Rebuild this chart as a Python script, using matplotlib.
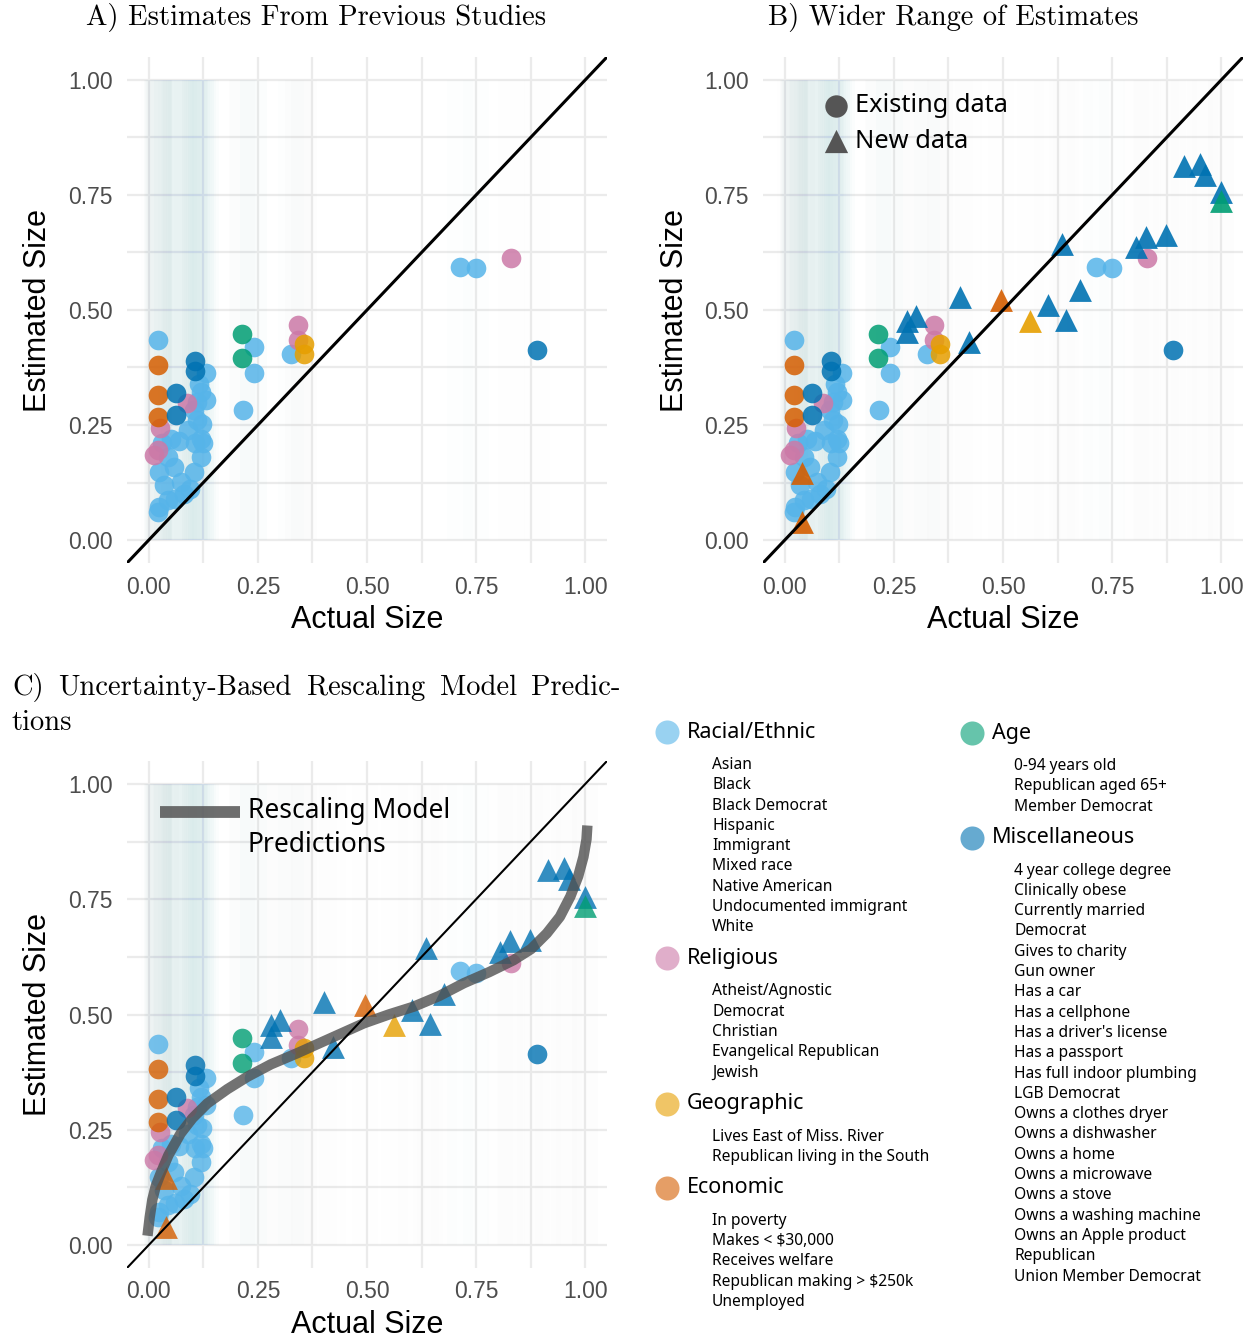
import matplotlib
matplotlib.use("Agg")
import matplotlib.pyplot as plt
from matplotlib.patches import Rectangle

plt.rcParams['font.family'] = ['Liberation Sans', 'DejaVu Sans']

# colours for each item category
col_rac = '#56B4E9'
col_rel = '#CC79A7'
col_geo = '#E69F00'
col_eco = '#D55E00'
col_age = '#009E73'
col_misc = '#0072B2'

# ---- existing data (circles): actual size, estimated size ----
rac_x = [0.020, 0.240, 0.240, 0.216, 0.325, 0.714, 0.750, 0.130, 0.119, 0.130,
         0.104, 0.123, 0.115, 0.120, 0.105, 0.125, 0.070, 0.030, 0.043, 0.023,
         0.057, 0.103, 0.073, 0.023, 0.043, 0.090, 0.110, 0.110, 0.050, 0.020,
         0.060, 0.080, 0.035, 0.095, 0.120]
rac_y = [0.435, 0.419, 0.363, 0.282, 0.405, 0.594, 0.591, 0.362, 0.322, 0.304,
         0.282, 0.253, 0.340, 0.220, 0.210, 0.210, 0.215, 0.210, 0.181, 0.148,
         0.159, 0.148, 0.127, 0.072, 0.087, 0.240, 0.260, 0.300, 0.220, 0.060,
         0.090, 0.100, 0.120, 0.110, 0.180]
rel_x = [0.342, 0.342, 0.831, 0.087, 0.025, 0.020, 0.012]
rel_y = [0.468, 0.434, 0.612, 0.297, 0.244, 0.195, 0.184]
geo_x = [0.356, 0.356]
geo_y = [0.427, 0.405]
eco_x = [0.022, 0.022, 0.022]
eco_y = [0.381, 0.316, 0.267]
age_x = [0.213, 0.213]
age_y = [0.448, 0.395]
misc_x = [0.105, 0.105, 0.063, 0.063, 0.890]
misc_y = [0.390, 0.367, 0.320, 0.271, 0.414]

# ---- new data (triangles) ----
new_misc_x = [0.915, 0.952, 0.963, 0.999, 0.635, 0.805, 0.828, 0.873, 0.676, 0.602,
              0.644, 0.401, 0.281, 0.301, 0.281, 0.421]
new_misc_y = [0.813, 0.818, 0.794, 0.756, 0.644, 0.636, 0.659, 0.662, 0.544, 0.510,
              0.479, 0.528, 0.477, 0.488, 0.452, 0.430]
new_age_x = [1.000]
new_age_y = [0.736]
new_eco_x = [0.495, 0.040, 0.040]
new_eco_y = [0.521, 0.145, 0.040]
new_geo_x = [0.563]
new_geo_y = [0.477]

# rescaling model prediction curve
curve_x = [-0.003, 0.002, 0.008, 0.016, 0.027, 0.045, 0.073, 0.100, 0.134, 0.180,
           0.226, 0.280, 0.340, 0.420, 0.493, 0.550, 0.607, 0.665, 0.722, 0.780,
           0.836, 0.876, 0.912, 0.942, 0.966, 0.984, 0.996, 1.003, 1.005]
curve_y = [0.020, 0.060, 0.098, 0.128, 0.155, 0.195, 0.242, 0.275, 0.307, 0.338,
           0.365, 0.392, 0.416, 0.450, 0.481, 0.500, 0.517, 0.540, 0.568, 0.592,
           0.618, 0.642, 0.676, 0.712, 0.756, 0.800, 0.842, 0.880, 0.910]

ticks = [0, 0.25, 0.5, 0.75, 1.0]
tick_labels = ['0.00', '0.25', '0.50', '0.75', '1.00']
minor_ticks = [0.125, 0.375, 0.625, 0.875]

# legend text
rac_names = ['Asian', 'Black', 'Black Democrat', 'Hispanic', 'Immigrant', 'Mixed race',
             'Native American', 'Undocumented immigrant', 'White']
rel_names = ['Atheist/Agnostic', 'Democrat', 'Christian', 'Evangelical Republican', 'Jewish']
geo_names = ['Lives East of Miss. River', 'Republican living in the South']
eco_names = ['In poverty', 'Makes < $30,000', 'Receives welfare',
             'Republican making > $250k', 'Unemployed']
age_names = ['0-94 years old', 'Republican aged 65+', 'Member Democrat']
misc_names = ['4 year college degree', 'Clinically obese', 'Currently married', 'Democrat',
              'Gives to charity', 'Gun owner', 'Has a car', 'Has a cellphone',
              "Has a driver's license", 'Has a passport', 'Has full indoor plumbing',
              'LGB Democrat', 'Owns a clothes dryer', 'Owns a dishwasher', 'Owns a home',
              'Owns a microwave', 'Owns a stove', 'Owns a washing machine',
              'Owns an Apple product', 'Republican', 'Union Member Democrat']

old_groups = [(rac_x, rac_y, col_rac), (rel_x, rel_y, col_rel), (geo_x, geo_y, col_geo),
              (eco_x, eco_y, col_eco), (age_x, age_y, col_age), (misc_x, misc_y, col_misc)]
new_groups = [(new_misc_x, new_misc_y, col_misc), (new_age_x, new_age_y, col_age),
              (new_eco_x, new_eco_y, col_eco), (new_geo_x, new_geo_y, col_geo)]

W, H = 1254, 1340
fig = plt.figure(figsize=(W / 100, H / 100), dpi=100)


def px_axes(left, top, right, bottom):
    return fig.add_axes([left / W, 1 - bottom / H, (right - left) / W, (bottom - top) / H])


def style(ax):
    ax.set_xlim(-0.05, 1.05)
    ax.set_ylim(-0.05, 1.05)
    ax.set_xticks(ticks)
    ax.set_yticks(ticks)
    ax.set_xticks(minor_ticks, minor=True)
    ax.set_yticks(minor_ticks, minor=True)
    ax.set_xticklabels(tick_labels)
    ax.set_yticklabels(tick_labels)
    ax.grid(which='both', color='#EBEBEB', lw=1.6)
    ax.set_axisbelow(True)
    for s in ax.spines.values():
        s.set_visible(False)
    ax.tick_params(which='both', length=0, labelsize=16.5, labelcolor='#4D4D4D')
    ax.tick_params(axis='x', pad=9)
    ax.tick_params(axis='y', pad=10)


def haze(ax, groups):
    # faint columns for the individual responses behind each item
    for xs, ys, c in groups:
        a = 0.010 if c == col_rac else 0.005
        for x in xs:
            ax.add_patch(Rectangle((x - 0.03, 0), 0.06, 1.0, color=c, alpha=a,
                                   lw=0, zorder=0.6))


def points(ax, groups, marker, s, alpha):
    for xs, ys, c in groups:
        ax.scatter(xs, ys, s=s, color=c, marker=marker, alpha=alpha, lw=0, zorder=3)


axA = px_axes(127, 57, 607, 563)
axB = px_axes(763, 57, 1243, 563)
axC = px_axes(127, 761, 607, 1268)

for ax in (axA, axB, axC):
    style(ax)

haze(axA, old_groups)
haze(axB, old_groups + new_groups)
haze(axC, old_groups + new_groups)

points(axA, old_groups, 'o', 200, 0.85)
points(axB, old_groups, 'o', 200, 0.85)
points(axB, new_groups, '^', 270, 0.9)
points(axC, old_groups, 'o', 200, 0.8)
points(axC, new_groups, '^', 270, 0.8)

axC.plot(curve_x, curve_y, color='#505050', alpha=0.8, lw=7.5, solid_capstyle='butt', zorder=4)

axA.axline((0, 0), (1, 1), color='black', lw=2.2, zorder=5)
axB.axline((0, 0), (1, 1), color='black', lw=2.2, zorder=5)
axC.axline((0, 0), (1, 1), color='black', lw=1.5, zorder=5)

# overlay in pixel units for titles, labels and legends
cv = fig.add_axes([0, 0, 1, 1])
cv.set_xlim(0, W)
cv.set_ylim(H, 0)
cv.axis('off')

title_kw = dict(family='cmr10', size=20.6, va='center')
cv.text(316, 18, 'A) Estimates From Previous Studies', ha='center', **title_kw)
cv.text(953, 18, 'B) Wider Range of Estimates', ha='center', **title_kw)

# justified first line of panel C title
words = ['C)', 'Uncertainty-Based', 'Rescaling', 'Model', 'Predic-']
objs = [cv.text(0, 688, w, ha='left', **title_kw) for w in words]
r = fig.canvas.get_renderer()
widths = [o.get_window_extent(r).width for o in objs]
gap = (621 - 12 - sum(widths)) / (len(words) - 1)
xpos = 12
for o, wd in zip(objs, widths):
    o.set_x(xpos)
    xpos += wd + gap
cv.text(12, 723, 'tions', ha='left', **title_kw)

lab_kw = dict(size=22, ha='center', va='center')
cv.text(367, 620, 'Actual Size', **lab_kw)
cv.text(1003, 620, 'Actual Size', **lab_kw)
cv.text(367, 1325, 'Actual Size', **lab_kw)
cv.text(38, 310, 'Estimated Size', rotation=90, **lab_kw)
cv.text(675, 310, 'Estimated Size', rotation=90, **lab_kw)
cv.text(38, 1014, 'Estimated Size', rotation=90, **lab_kw)

# shape legend in panel B
leg_font = ['Noto Sans', 'DejaVu Sans']
cv.scatter([836], [106], s=260, marker='o', color='#555555', lw=0, zorder=6)
cv.scatter([836], [141], s=280, marker='^', color='#555555', lw=0, zorder=6)
cv.text(855, 106, 'Existing data', family=leg_font, size=18.3, va='center')
cv.text(855, 141, 'New data', family=leg_font, size=18.3, va='center')

# model curve legend in panel C
cv.plot([160, 240], [812, 812], color='#555555', alpha=0.85, lw=8.5, solid_capstyle='butt')
cv.text(248, 811, 'Rescaling Model', family=leg_font, size=19, va='center')
cv.text(248, 845, 'Predictions', family=leg_font, size=19, va='center')


# category legend
def legend_column(cx, y, indent, entries):
    for name, color, items in entries:
        cv.scatter([cx], [y], s=300, color=color, alpha=0.6, lw=0)
        cv.text(cx + 20, y, name, family=leg_font, size=15.5, va='center')
        y += 33
        for it in items:
            cv.text(cx + indent, y, it, family=leg_font, size=11.2, va='center')
            y += 20.3
        y += 31 - 20.3


legend_column(667, 732, 45, [('Racial/Ethnic', col_rac, rac_names),
                             ('Religious', col_rel, rel_names),
                             ('Geographic', col_geo, geo_names),
                             ('Economic', col_eco, eco_names)])
legend_column(972, 733, 42, [('Age', col_age, age_names),
                             ('Miscellaneous', col_misc, misc_names)])

fig.savefig('out.png', dpi=100)
